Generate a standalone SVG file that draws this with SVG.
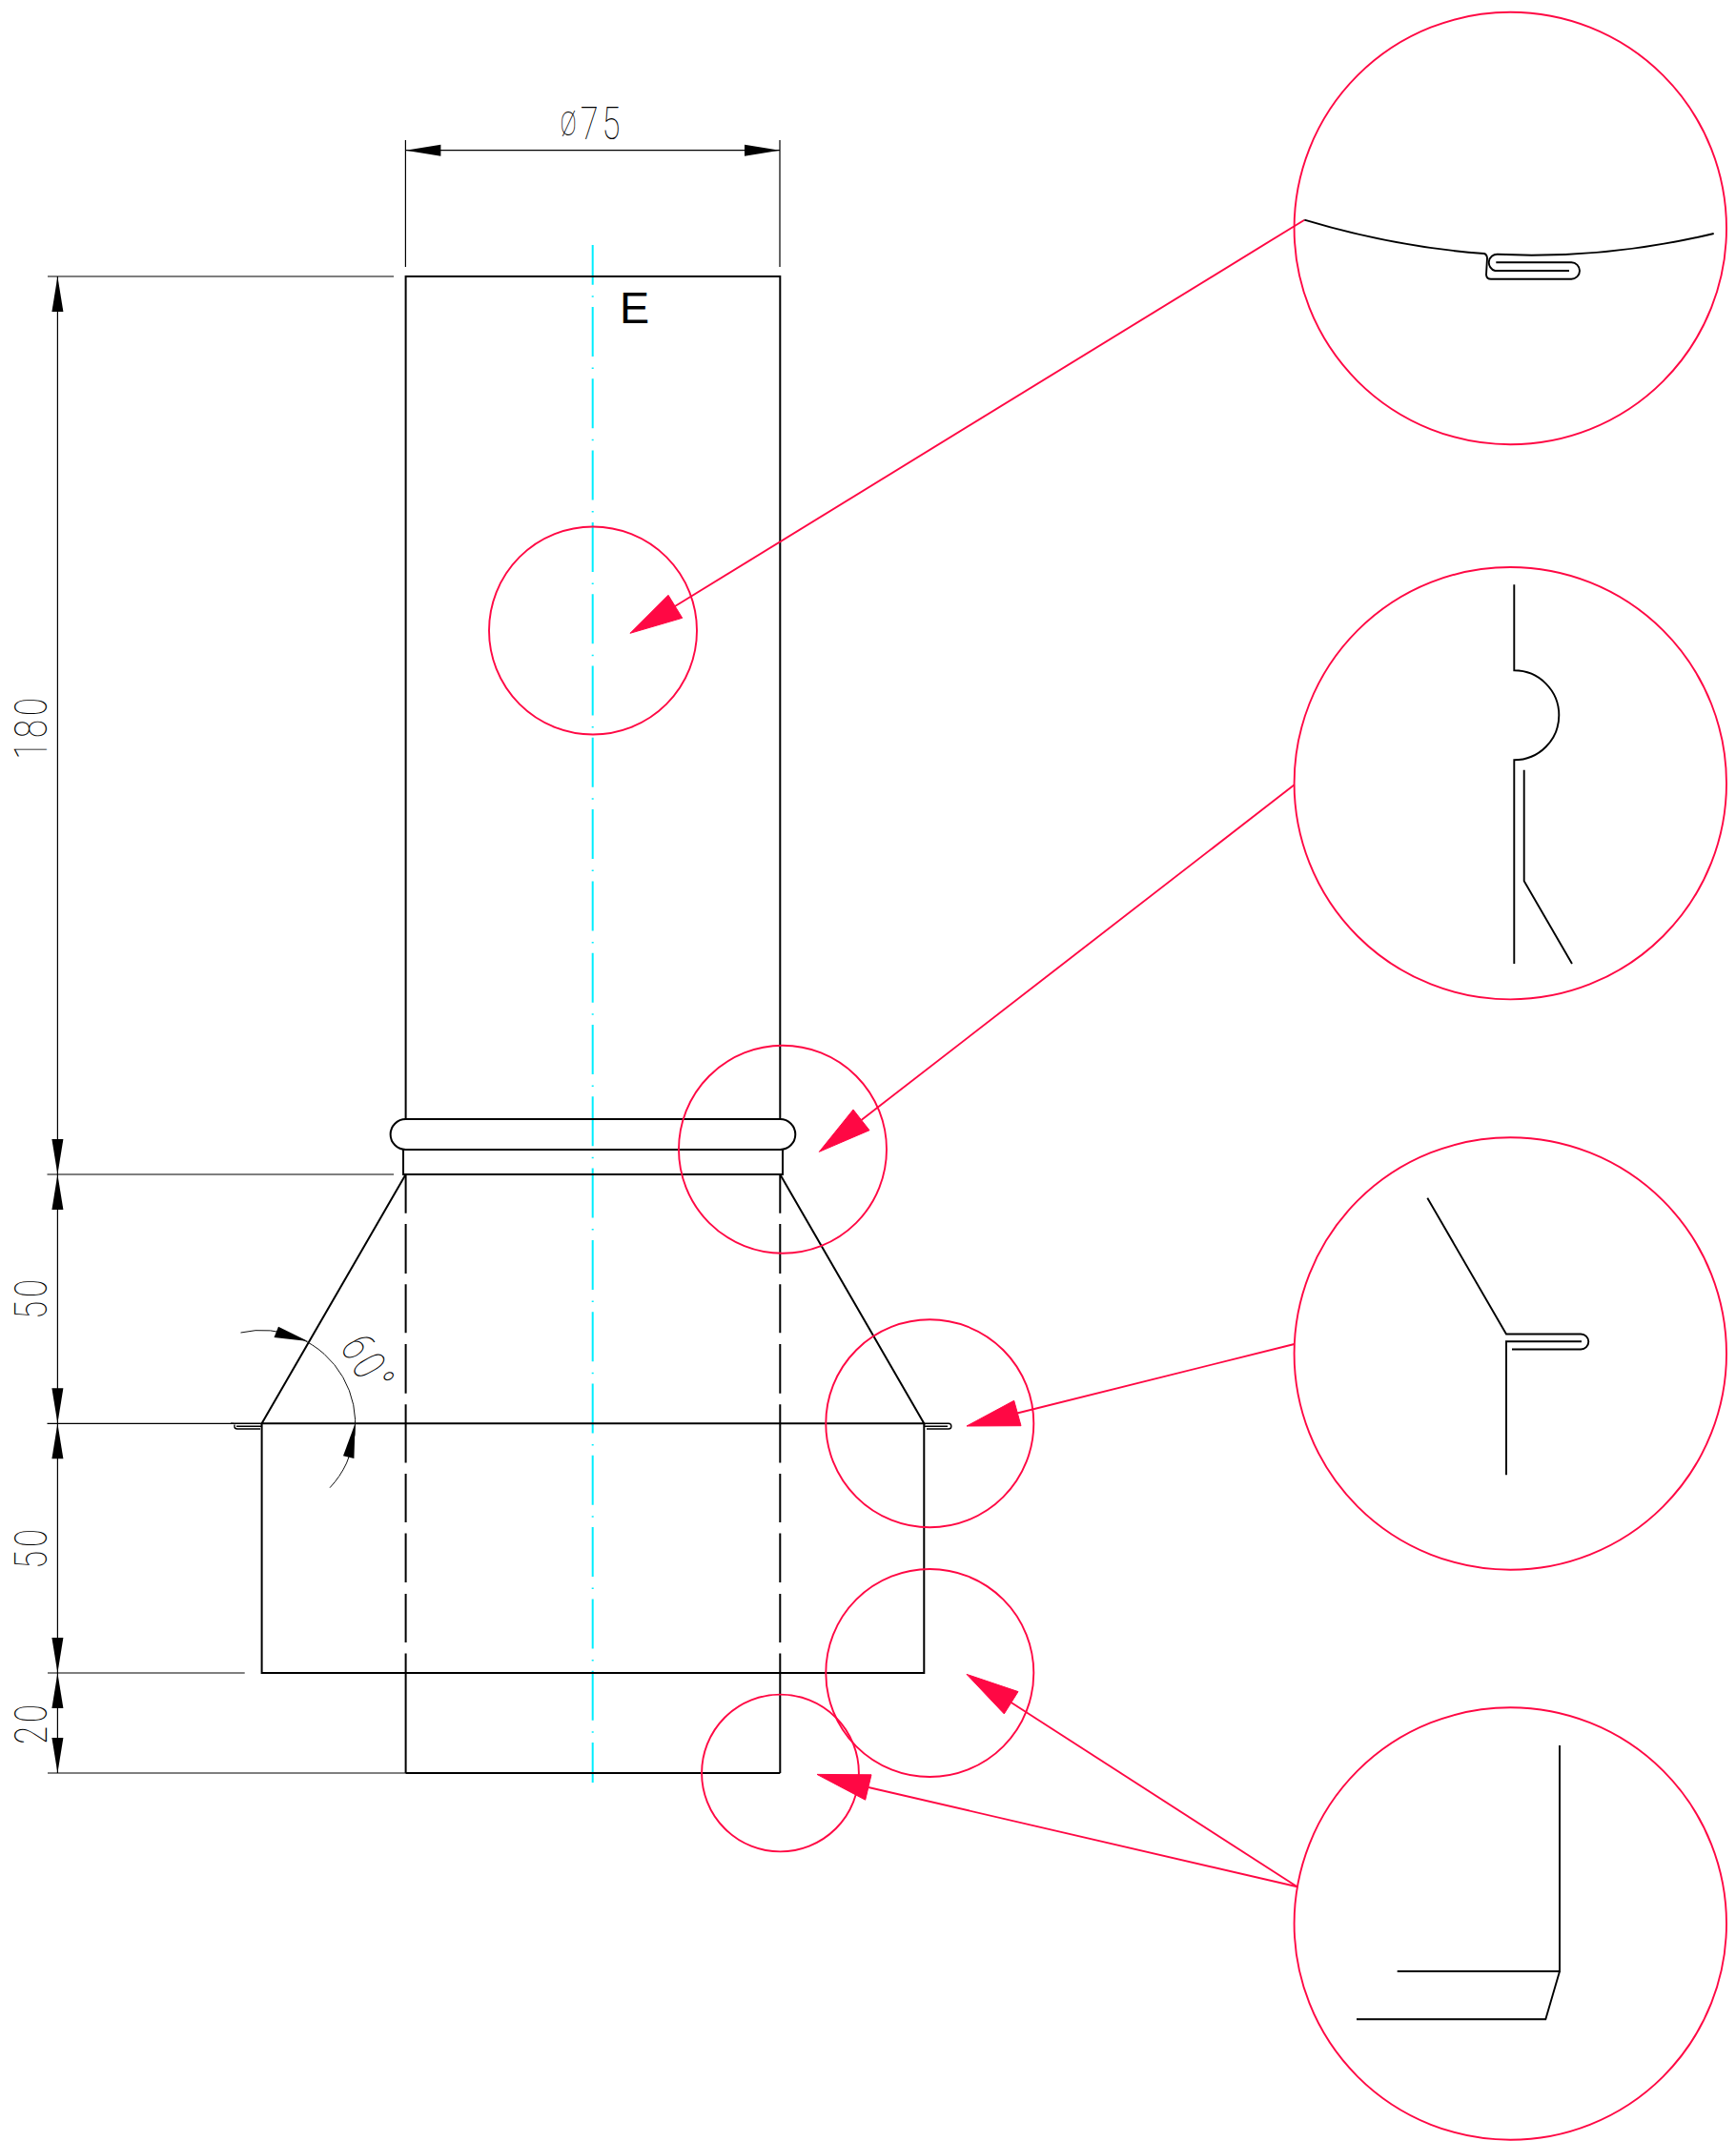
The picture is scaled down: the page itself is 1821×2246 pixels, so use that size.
<svg xmlns="http://www.w3.org/2000/svg" width="1821" height="2246" viewBox="0 0 1821 2246">
<style>
.ln{fill:none;stroke:#000;stroke-width:2}
.det{fill:none;stroke:#000;stroke-width:1.9}
.thin{fill:none;stroke:#000;stroke-width:1.2}
.flg{fill:none;stroke:#000;stroke-width:1.4}
.fine{fill:none;stroke:#111;stroke-width:1}
.ctr{fill:none;stroke:#00eeff;stroke-width:2;stroke-dasharray:52 11.5 1.5 10.3;stroke-dashoffset:10.3}
.red{fill:none;stroke:#ff0844;stroke-width:1.9}
.rh{fill:#ff0844;stroke:#ff0844;stroke-width:1;stroke-linejoin:round}
.ah{fill:#000;stroke:none}
.dim{font-family:"Roboto","Liberation Sans",sans-serif;font-weight:100;font-size:48px;fill:#000;letter-spacing:5.5px;text-anchor:middle}
.lab{font-family:"Liberation Sans",Arial,sans-serif;font-size:46.7px;fill:#000}
</style>
<defs>
<polygon id="arrow" class="ah" points="0,0 -37,-6 -37,6"/>
</defs>
<rect width="1821" height="2246" fill="#fff"/>

<g id="centerline"><path class="ctr" d="M621.7 257V1870"/></g>

<g id="part">
<path class="ln" d="M425.6 1174V290H818.3V1174"/>
<path class="ln" d="M425.6 1174H818.3A16 16 0 0 1 818.3 1206H425.6A16 16 0 0 1 425.6 1174Z"/>
<path class="ln" d="M423 1206V1232H821V1206"/>
<path class="ln" d="M425.6 1232L274.6 1493.3H969.3L818.3 1232"/>
<path class="ln" d="M274.6 1493.3V1755H969.3V1493.3"/>
<path class="ln" d="M425.6 1860H818.3"/>
<path class="ln" d="M425.6 1232V1272.7M425.6 1284V1336M425.6 1347.3V1398.3M425.6 1410V1461.7M425.6 1473.3V1534.6M425.6 1546V1597M425.6 1608.6V1660M425.6 1672V1723M425.6 1734.6V1860"/>
<path class="ln" d="M818.3 1232V1272.7M818.3 1284V1336M818.3 1347.3V1398.3M818.3 1410V1461.7M818.3 1473.3V1534.6M818.3 1546V1597M818.3 1608.6V1660M818.3 1672V1723M818.3 1734.6V1860"/>
<path class="flg" d="M969.3 1493.3H995A2.8 2.8 0 0 1 995 1499H972M969.3 1496.2H994"/>
<path class="flg" d="M274.6 1493.3H242M246 1494.5V1496.5Q246 1499 249 1499H273M248 1496.2H274.6"/>
</g>

<g id="dimensions">
<path class="thin" d="M425.4 147V280M818 147V280"/>
<path class="ln" style="stroke-width:1.3" d="M425.4 157.7H818"/>
<use href="#arrow" transform="translate(425.4 157.7) rotate(180)"/>
<use href="#arrow" transform="translate(818 157.7)"/>
<path class="thin" d="M50 290H413M49.5 1232H413M49.5 1493.3H245M50 1755H256.7M50 1860H426"/>
<path class="thin" d="M60.4 290V1860"/>
<use href="#arrow" transform="translate(60.4 290) rotate(-90)"/>
<use href="#arrow" transform="translate(60.4 1232) rotate(90)"/>
<use href="#arrow" transform="translate(60.4 1232) rotate(-90)"/>
<use href="#arrow" transform="translate(60.4 1493.3) rotate(90)"/>
<use href="#arrow" transform="translate(60.4 1493.3) rotate(-90)"/>
<use href="#arrow" transform="translate(60.4 1755) rotate(90)"/>
<use href="#arrow" transform="translate(60.4 1755) rotate(-90)"/>
<use href="#arrow" transform="translate(60.4 1860) rotate(90)"/>
<path class="fine" d="M252.5 1398A98 98 0 0 1 346 1560.7"/>
<polygon class="ah" points="323,1407 292,1391.7 287.5,1403"/>
<polygon class="ah" points="372.5,1493.3 360,1527.3 371.4,1530"/>
<text class="dim" transform="translate(621 146) scale(.72 1)"><tspan font-size="36" dy="-4">Ø</tspan><tspan dy="4">75</tspan></text>
<text class="dim" transform="translate(49 762.5) rotate(-90) scale(.72 1)">180</text>
<text class="dim" transform="translate(49 1361) rotate(-90) scale(.72 1)">50</text>
<text class="dim" transform="translate(49 1623) rotate(-90) scale(.72 1)">50</text>
<text class="dim" transform="translate(49 1807) rotate(-90) scale(.72 1)">20</text>
<text class="dim" transform="translate(372 1440) rotate(60) scale(.72 1)">60°</text>
</g>

<text id="label-E" class="lab" x="650" y="339">E</text>

<g id="markers">
<circle class="red" cx="622" cy="661.5" r="109"/>
<circle class="red" cx="821" cy="1205.8" r="109"/>
<circle class="red" cx="975.3" cy="1493.3" r="109"/>
<circle class="red" cx="975.3" cy="1755" r="109"/>
<circle class="red" cx="818.5" cy="1860" r="82.4"/>
</g>

<g id="connectors">
<path class="red" d="M708 636L1368.3 230.7"/>
<polygon class="rh" points="661,664.3 701,624.3 715.7,648.3"/>
<path class="red" d="M903.5 1175L1357.7 823.3"/>
<polygon class="rh" points="859.3,1208.3 895,1164 912,1185.7"/>
<path class="red" d="M1067 1482.5L1357.7 1410"/>
<polygon class="rh" points="1014,1496 1063.7,1469.3 1071,1495.7"/>
<path class="red" d="M1060.7 1786L1360.7 1979.3"/>
<polygon class="rh" points="1014,1756.4 1068,1774.6 1053.3,1797.9"/>
<path class="red" d="M911 1875L1360.7 1979.3"/>
<polygon class="rh" points="857,1861.4 914,1861.8 907.7,1888.2"/>
</g>

<g id="detail-1">
<circle class="red" cx="1584.3" cy="239.5" r="226.7"/>
<path class="det" d="M1368.3 230.7Q1462.3 259 1556.7 266Q1559.5 266.5 1560 270.7L1559 288.3Q1559.5 292.7 1564 292.7H1648.3A8.7 8.7 0 0 0 1648.3 275.3H1569.3"/>
<path class="det" d="M1797.7 245Q1703.3 267.7 1606.7 267.7L1570.7 266.7A8.8 8.8 0 0 0 1568.3 284H1646"/>
</g>
<g id="detail-2">
<circle class="red" cx="1584.3" cy="821.7" r="226.7"/>
<path class="det" d="M1588.3 613.3V703.3A47 47 0 0 1 1588.3 797.3V1011"/>
<path class="det" d="M1598.7 807.7V924.3L1649 1011"/>
</g>
<g id="detail-3">
<circle class="red" cx="1584.3" cy="1420" r="226.7"/>
<path class="det" d="M1497.3 1256.7L1580 1399.5H1658.3A8 8 0 0 1 1658.3 1415.5H1586"/>
<path class="det" d="M1580 1547.3V1407.3H1659"/>
</g>
<g id="detail-4">
<circle class="red" cx="1584.3" cy="2018" r="226.7"/>
<path class="det" d="M1636 1831V2068H1465.7"/>
<path class="det" d="M1636 2068L1621.3 2118.3H1423"/>
</g>
</svg>
